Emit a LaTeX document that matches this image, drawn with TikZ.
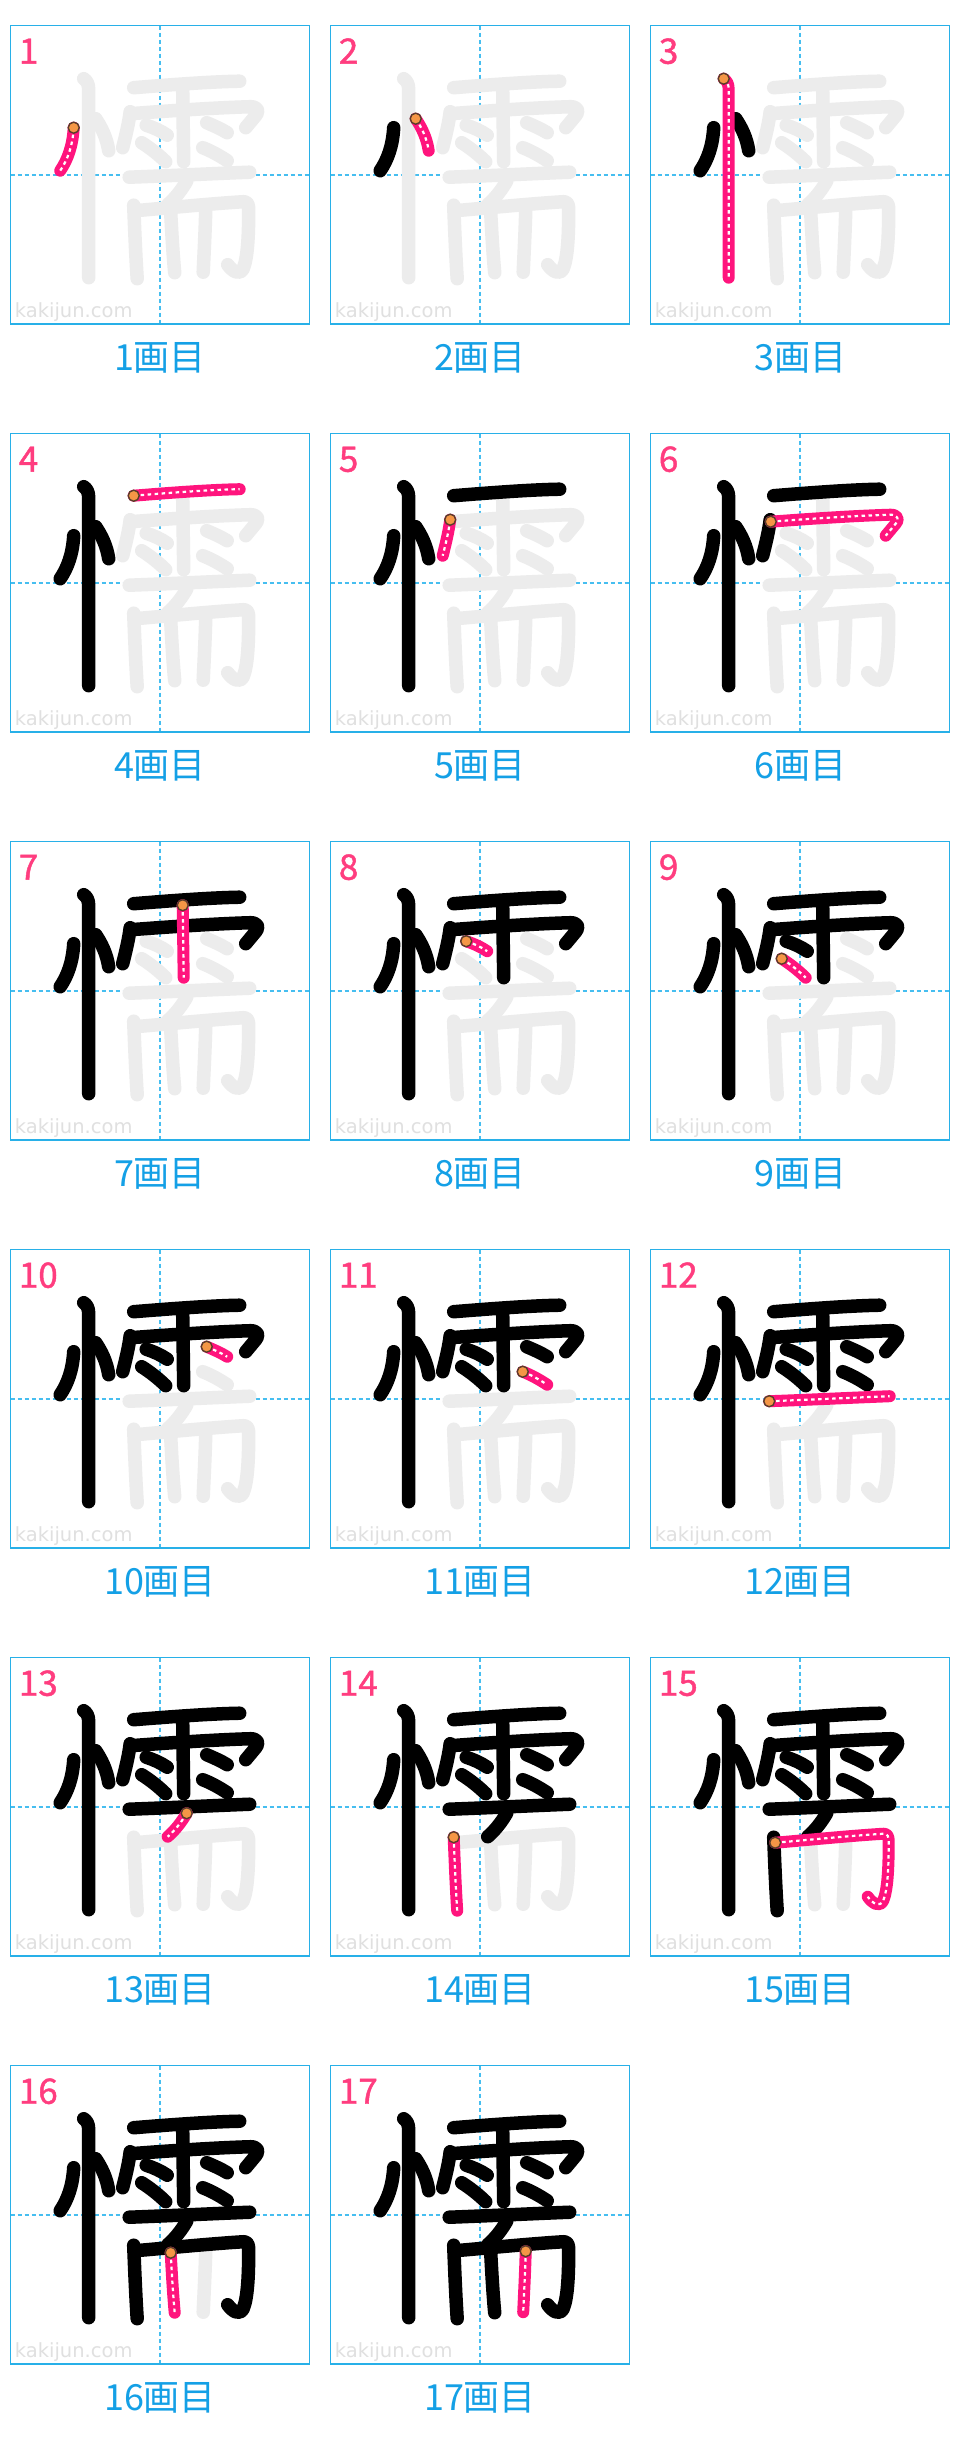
\documentclass[tikz,border=0pt]{standalone}
\usepackage{fontspec}
\newfontfamily\jpfont{Noto Sans CJK JP}
\newfontfamily\numfont[FakeBold=1.2]{Noto Sans CJK JP}
\newfontfamily\wmfont{DejaVu Sans}
\definecolor{panelblue}{RGB}{40,176,232}
\definecolor{guideblue}{RGB}{70,190,240}
\definecolor{capblue}{RGB}{20,160,230}
\definecolor{numpink}{RGB}{255,61,127}
\definecolor{strokepink}{RGB}{255,20,125}
\definecolor{ghost}{RGB}{236,236,236}
\definecolor{wmgray}{RGB}{224,224,224}
\definecolor{dotorange}{RGB}{245,150,70}
\definecolor{dotrim}{RGB}{90,62,42}
\newcommand\defstroke[3]{%
  \expandafter\def\csname stk#1\endcsname{#3}%
  \expandafter\def\csname stb#1\endcsname{#2}}
\defstroke{1}{63,102}{(63,102) .. controls (62,120) and (57,134) .. (49.5,145)}
\defstroke{2}{85,93}{(85,93) .. controls (91,102) and (96,112) .. (98,125)}
\defstroke{3}{73,53}{(73,53) .. controls (76,55) and (78,58) .. (78,64) -- (78,252)}
\defstroke{4}{123,62}{(123,62) .. controls (160,59) and (200,56) .. (229,55.5)}
\defstroke{5}{119.5,86}{(119.5,86) .. controls (118,98) and (115,110) .. (112,122)}
\defstroke{6}{120,88}{(120,88) .. controls (160,85) and (205,82) .. (240,81) .. controls (247,81) and (249,86) .. (245,90) -- (235,102)}
\defstroke{7}{172,63.5}{(172,63.5) -- (173,136)}
\defstroke{8}{135.5,99.5}{(135.5,99.5) .. controls (143,102) and (150,105) .. (156.5,109.5)}
\defstroke{9}{131,117}{(131,117) .. controls (139,122) and (148,129) .. (155,136)}
\defstroke{10}{196,97}{(196,97) .. controls (203,100) and (210,103) .. (216.5,107)}
\defstroke{11}{192,122}{(192,122) .. controls (200,125) and (209,130) .. (216.5,135)}
\defstroke{12}{118.5,151.5}{(118.5,151.5) .. controls (160,150) and (200,148) .. (239,146.5)}
\defstroke{13}{176,155.5}{(176,155.5) .. controls (171,164) and (165,172) .. (157,179)}
\defstroke{14}{123,179.5}{(123,179.5) .. controls (124,205) and (125,230) .. (126.5,253)}
\defstroke{15}{124.5,185}{(124.5,185) .. controls (160,182) and (200,178) .. (233,176) .. controls (237,176) and (238,179) .. (238,184) .. controls (238,210) and (237,232) .. (232.5,243) .. controls (229,250) and (222,246) .. (217,239)}
\defstroke{16}{160,187}{(160,187) .. controls (161,205) and (162,225) .. (164,247)}
\defstroke{17}{195,185.5}{(195,185.5) .. controls (194.5,205) and (193.5,225) .. (192.5,246.5)}
\begin{document}
\begin{tikzpicture}[x=1pt,y=-1pt,
  panelborder/.style={draw=panelblue,line width=1.5pt},
  guide/.style={draw=guideblue,line width=1.4pt,dash pattern=on 4pt off 3pt},
  todostroke/.style={draw=ghost,line width=13.5pt,line cap=round,line join=round},
  donestroke/.style={draw=black,line width=13.5pt,line cap=round,line join=round},
  curstroke/.style={draw=strokepink,line width=12pt,line cap=round,line join=round},
  curdash/.style={draw=white,line width=2.2pt,dash pattern=on 3.5pt off 3.5pt,line join=round},
  startdot/.style={fill=dotorange,draw=dotrim,line width=1.4pt},
  numlabel/.style={anchor=base west,inner sep=0pt,text=numpink,font=\numfont\fontsize{35}{35}\selectfont},
  caption/.style={anchor=base,inner sep=0pt,text=capblue,font=\jpfont\fontsize{36}{36}\selectfont},
  wmark/.style={anchor=base west,inner sep=0pt,text=wmgray,font=\wmfont\fontsize{19.5}{19.5}\selectfont}]
\useasboundingbox (0,0) rectangle (960,2448);
\fill[white] (0,0) rectangle (960,2448);
\foreach \k in {1,...,17}{
  \pgfmathtruncatemacro\rowi{(\k-1)/3}
  \pgfmathtruncatemacro\coli{mod(\k-1,3)}
  \begin{scope}[shift={(320*\coli+10.7,408*\rowi+25.7)}]
    \draw[guide] (149.3,0) -- (149.3,298.3);
    \draw[guide] (0,149.2) -- (298.6,149.2);
    \draw[panelborder] (0,0) rectangle (298.6,298.3);
    \node[wmark] (wm\k) at (4,292) {kakijun.com};
    \foreach \i in {1,...,17}{
      \expandafter\let\expandafter\curpath\csname stk\i\endcsname
      \ifnum\i>\k\relax \draw[todostroke] \curpath; \fi
    }
    \foreach \i in {1,...,17}{
      \expandafter\let\expandafter\curpath\csname stk\i\endcsname
      \ifnum\i<\k\relax \draw[donestroke] \curpath; \fi
    }
    \expandafter\let\expandafter\curpath\csname stk\k\endcsname
    \expandafter\let\expandafter\curstart\csname stb\k\endcsname
    \draw[curstroke] \curpath;
    \draw[curdash] \curpath;
    \draw[startdot] (\curstart) circle[radius=5.5];
    \node[numlabel] (num\k) at (8,38) {\k};
    \node[caption] (cap\k) at (149.3,345) {\k{}画目};
  \end{scope}
}
\end{tikzpicture}
\end{document}
